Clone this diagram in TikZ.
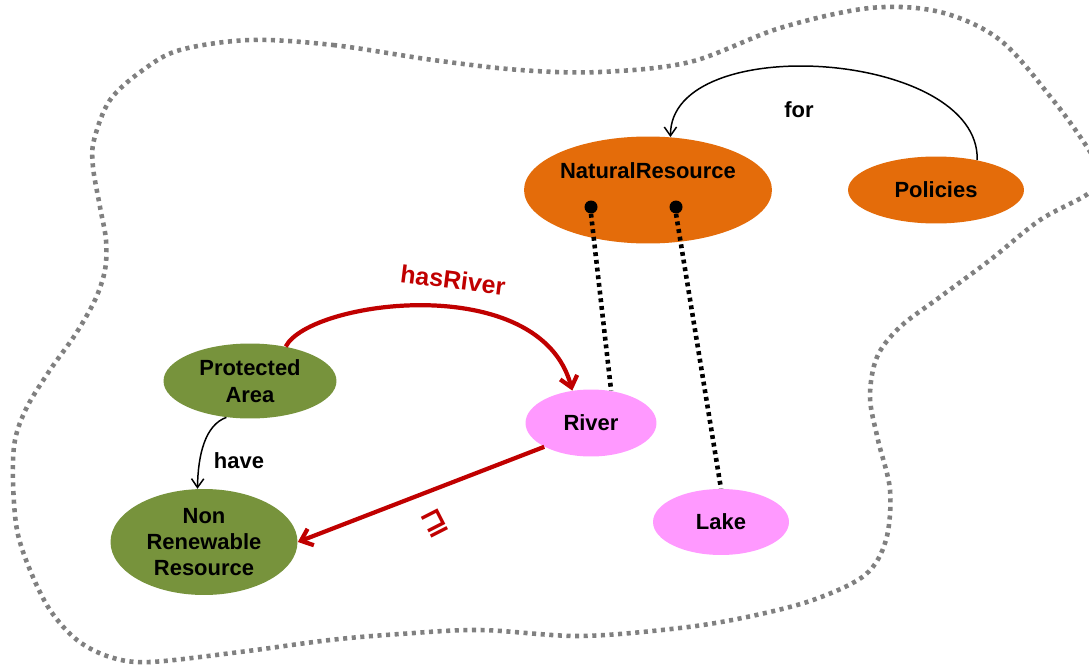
\documentclass[tikz,border=0pt]{standalone}
\usepackage{fontspec}
\setmainfont{Liberation Sans}
\newfontfamily\symfont{DejaVu Sans}
\usetikzlibrary{shapes.geometric,arrows.meta}

\definecolor{resorange}{HTML}{E46C0A}
\definecolor{resgreen}{HTML}{77933C}
\definecolor{respink}{HTML}{FF99FF}
\definecolor{relred}{HTML}{C00000}
\definecolor{outlinegray}{HTML}{808080}

\tikzset{
  concept/.style={ellipse, inner sep=0pt, align=center, text=black,
    font=\bfseries\fontsize{12.5}{15}\selectfont},
  orangeconcept/.style={concept, fill=resorange},
  greenconcept/.style={concept, fill=resgreen},
  pinkconcept/.style={concept, fill=respink},
  edgelabel/.style={inner sep=0pt, text=black,
    font=\bfseries\fontsize{12.5}{15}\selectfont},
  relation/.style={draw=black, line width=0.85pt,
    -{Straight Barb[length=5pt,width=7pt]}},
  redrelation/.style={draw=relred, line width=2.4pt,
    -{Straight Barb[length=6pt,width=10pt]}},
  instanceof/.style={draw=black, line width=2.6pt,
    dash pattern=on 2.2pt off 2.2pt},
  anchordot/.style={circle, fill=black, inner sep=0pt, minimum size=0.26cm},
  regionoutline/.style={draw=outlinegray, line width=2.6pt,
    dash pattern=on 2.3pt off 2.6pt}
}

\begin{document}
\begin{tikzpicture}[x=0.02cm, y=-0.02cm]
\useasboundingbox (0,0) rectangle (1089,666);
\fill[white] (0,0) rectangle (1089,666);

% dotted outline of the region
\begin{scope}
\clip (0,0) rectangle (1089,666);
\draw[regionoutline] plot[smooth cycle, tension=0.55] coordinates {
  (250,40) (333,45) (433,60) (520,70) (600,72) (690,62) (780,28)
  (870,8) (940,12) (1000,40) (1053,100) (1087,147) (1100,172)
  (1089,193) (1040,220) (990,260) (940,297) (900,327) (877,357)
  (870,397) (878,440) (890,490) (886,540) (865,575) (813,600)
  (747,617) (680,628) (580,636) (480,630) (400,634) (330,640)
  (240,652) (150,662) (110,657) (77,640) (50,610) (30,570)
  (17,530) (13,480) (15,440) (27,407) (50,370) (75,335) (95,300)
  (105,270) (106,240) (100,207) (93,167) (94,140) (110,100)
  (143,70) (180,50)};
\end{scope}

% concepts
\node[orangeconcept, minimum width=4.96cm, minimum height=2.14cm] (NR) at (648,190) {};
\node[edgelabel] (NRtext) at (648,171) {NaturalResource};
\node[orangeconcept, minimum width=3.52cm, minimum height=1.34cm] (Policies) at (936,190) {Policies};
\node[greenconcept, minimum width=3.46cm, minimum height=1.5cm] (PA) at (250,381) {Protected\\Area};
\node[greenconcept, minimum width=3.74cm, minimum height=2.12cm] (NRR) at (204,542) {Non\\Renewable\\Resource};
\node[pinkconcept, minimum width=2.62cm, minimum height=1.34cm] (River) at (591,423) {River};
\node[pinkconcept, minimum width=2.72cm, minimum height=1.32cm] (Lake) at (721,522) {Lake};

% instance links
\node[anchordot] (d1) at (591,207) {};
\node[anchordot] (d2) at (676,207) {};
\draw[instanceof] (d1.south) -- (River.58);
\draw[instanceof] (d2.south) -- (Lake.north);

% relations
\draw[relation] (Policies.36) .. controls (980,50) and (670,30) .. (NR.67);
\node[edgelabel] (forlabel) at (799,110) {for};

\draw[relation] (PA.237) .. controls (205,425) and (198,455) .. (NRR.97);
\node[edgelabel] (havelabel) at (239,461) {have};

\draw[redrelation] (PA.44) .. controls (310,300) and (540,270) .. (River.120);
\node[edgelabel, text=relred, rotate=-7, font=\bfseries\fontsize{14.2}{16}\selectfont] (hasriverlabel) at (453,280) {hasRiver};

\draw[redrelation] (River.207) -- (NRR.east);
\node[inner sep=0pt, text=relred, rotate=27, font=\symfont\bfseries\fontsize{17}{17}\selectfont] (subsumes) at (435,523) {⊒};
\end{tikzpicture}
\end{document}
